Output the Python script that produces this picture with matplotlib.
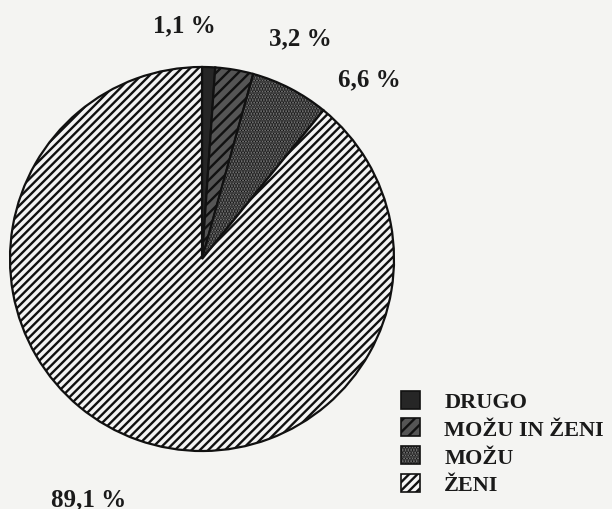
import numpy as np
import matplotlib.pyplot as plt
from matplotlib.patches import Patch

# Data
categories = ["DRUGO", "MOŽU IN ŽENI", "MOŽU", "ŽENI"]
shares = [1.1, 3.2, 6.6, 89.1]

# Styles per slice
face_colors = ["#262626", "#555555", "#8a8a8a", "#f4f4f4"]
hatches = ["", "///", "......", "////"]
label_xy = [(-0.09, 1.22), (0.51, 1.15), (0.87, 0.94), (-0.59, -1.25)]

plt.rcParams["font.family"] = ["Liberation Serif", "DejaVu Serif"]
plt.rcParams["font.weight"] = "bold"
plt.rcParams["hatch.linewidth"] = 1.7
plt.rcParams["hatch.color"] = "#1a1a1a"

fig = plt.figure(figsize=(6.12, 5.1), dpi=100)
fig.patch.set_facecolor("#f4f4f2")

# pie axes: centre at (202, 260) px, radius 192 px
ax = fig.add_axes([10 / 612, 58 / 510, 384 / 612, 384 / 510])
ax.set_facecolor("none")

wedges, _ = ax.pie(shares, startangle=90, counterclock=False, radius=1.0,
                   colors=face_colors,
                   wedgeprops=dict(edgecolor="#111111", linewidth=1.6))
for w, h in zip(wedges, hatches):
    w.set_hatch(h)

ax.set_xlim(-1, 1)
ax.set_ylim(-1, 1)
ax.set_aspect("equal")
ax.axis("off")

# Percentage labels
for val, (x, y) in zip(shares, label_xy):
    ax.text(x, y, f"{val:.1f} %".replace(".", ","), ha="center", va="center",
            fontsize=18, fontweight="bold", color="#1a1a1a", clip_on=False)

# Legend
handles = [Patch(facecolor=c, hatch=h, edgecolor="#111111", linewidth=1.2)
           for c, h in zip(face_colors, hatches)]
leg = fig.legend(handles, categories, loc="upper left",
                 bbox_to_anchor=(385 / 612, 1 - 376 / 510),
                 frameon=False, handlelength=0.87, handleheight=0.87,
                 handletextpad=1.1, labelspacing=0.27, borderpad=0.2,
                 prop=dict(family="Liberation Serif", weight="bold", size=16))
for t in leg.get_texts():
    t.set_color("#1a1a1a")

fig.savefig("out.png", dpi=100, facecolor=fig.get_facecolor())
